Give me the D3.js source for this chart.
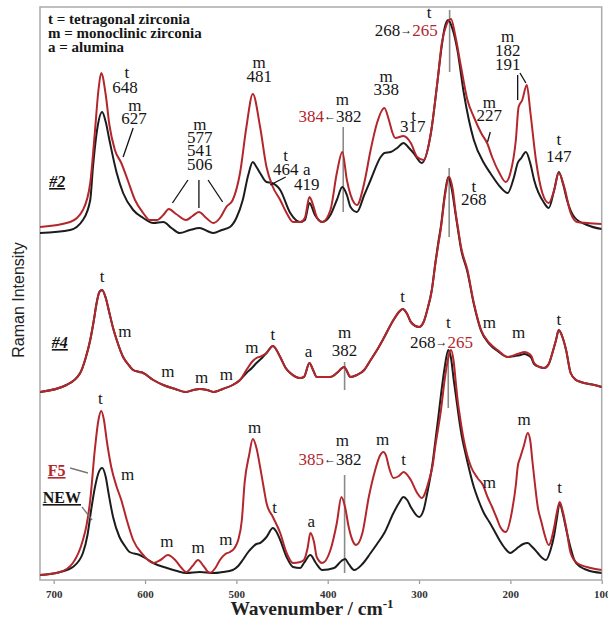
<!DOCTYPE html>
<html><head><meta charset="utf-8">
<script src="https://cdn.jsdelivr.net/npm/d3@7"></script>
<style>
html,body{margin:0;padding:0;background:#fff;}
svg{display:block;}
</style></head>
<body>
<svg id="chart" width="608" height="621"></svg>
<script>
// ---------- DATA (wavenumber cm-1, stacked Raman intensity, a.u.) ----------
const xTicks = [700, 600, 500, 400, 300, 200, 100];

const s2Red = [[715,353],[682,358],[668,370],[660,397],[655,447],[651,490],[648,507],[643,485],[639,455],[633,430],[626,417],[619,400],[611,380],[602,367],[595,360],[587,360],[580,365],[574,371],[566,366],[555,360],[548,364],[541,368],[533,362],[525,357],[518,362],[511,373],[504,380],[496,407],[489,453],[482,486],[474,453],[467,413],[460,393],[452,380],[445,367],[438,358],[430,358],[425,362],[420,383],[416,375],[412,363],[406,358],[397,370],[390,407],[384,428],[379,400],[371,377],[368,375],[360,397],[353,430],[346,457],[338,472],[333,460],[329,447],[326,442],[317,444],[309,437],[302,423],[295,420],[287,447],[280,497],[275,537],[270,555],[265,561],[260,543],[254,513],[247,480],[240,463],[232,447],[225,436],[220,423],[212,407],[205,398],[200,407],[194,440],[191,473],[187,480],[182,495],[178,467],[172,420],[165,387],[158,377],[152,390],[147,407],[141,393],[134,367],[127,358],[116,357],[100,356]];
const s2Black = [[715,347],[682,350],[668,360],[660,380],[657,413],[652,453],[647,468],[643,458],[639,440],[631,407],[624,387],[613,370],[602,362],[591,357],[580,358],[571,352],[562,347],[551,350],[540,352],[532,349],[525,347],[516,350],[507,353],[500,362],[493,380],[487,405],[482,418],[478,413],[474,407],[467,398],[461,397],[452,390],[441,367],[430,358],[425,360],[420,377],[414,365],[406,358],[397,365],[390,380],[384,393],[379,385],[375,373],[368,368],[360,385],[353,400],[342,423],[338,427],[331,428],[324,432],[317,437],[311,432],[306,427],[297,417],[287,447],[280,497],[275,535],[272,552],[268,560],[263,550],[258,530],[251,487],[240,440],[229,417],[222,407],[211,393],[203,387],[196,403],[192,417],[188,422],[183,428],[178,416],[174,400],[163,377],[158,372],[152,390],[147,408],[142,395],[138,380],[130,363],[116,355],[100,351]];

const s4Red = [[715,188],[686,195],[671,207],[665,222],[660,240],[656,260],[653,277],[650,288],[647,290],[643,282],[639,267],[635,252],[631,240],[624,223],[617,214],[613,210],[606,208],[602,207],[591,200],[580,195],[567,191],[555,188],[547,190],[540,191],[532,190],[525,188],[515,191],[504,195],[496,200],[489,210],[483,218],[478,222],[472,224],[467,227],[460,234],[452,223],[446,212],[441,207],[430,202],[426,203],[420,217],[416,210],[412,203],[397,203],[390,207],[382,213],[375,203],[368,205],[360,210],[353,220],[346,230],[338,243],[328,260],[322,268],[318,271],[313,266],[309,258],[300,253],[295,258],[291,270],[286,290],[282,317],[279,335],[276,352],[272,382],[267,403],[263,390],[260,368],[257,350],[254,333],[247,310],[240,277],[232,250],[223,237],[214,230],[203,223],[195,225],[189,227],[185,228],[181,227],[177,224],[174,217],[168,213],[163,212],[158,216],[154,227],[150,240],[147,250],[143,243],[139,230],[134,207],[128,200],[123,198],[108,195],[100,193]];
const s4Black = [[715,188],[686,195],[671,207],[665,222],[660,240],[656,260],[653,277],[650,288],[647,290],[643,282],[639,267],[635,252],[631,240],[624,223],[617,214],[613,210],[606,208],[602,207],[591,200],[580,195],[567,191],[555,188],[547,190],[540,191],[532,190],[525,188],[515,191],[504,195],[496,200],[489,207],[483,212],[478,217],[472,222],[467,227],[460,234],[452,223],[446,212],[441,207],[430,202],[426,203],[420,217],[416,210],[412,203],[397,203],[390,207],[382,213],[375,203],[368,205],[360,210],[353,220],[346,230],[338,243],[328,260],[322,268],[318,271],[313,266],[309,258],[300,253],[295,258],[291,270],[286,290],[282,318],[279,337],[276,354],[272,384],[268,403],[264,390],[260,366],[257,348],[254,331],[247,308],[240,276],[232,249],[223,236],[214,229],[203,223],[195,224],[189,225],[185,226],[181,225],[177,222],[174,216],[168,213],[163,212],[158,216],[154,227],[150,240],[147,250],[143,243],[139,230],[134,207],[128,200],[123,198],[108,195],[100,193]];

const sF5Red = [[715,5],[693,8],[679,17],[668,40],[664,55],[660,80],[655,130],[651,160],[648,169],[645,160],[642,140],[637,113],[631,93],[626,80],[620,60],[613,40],[602,25],[591,17],[583,20],[575,25],[567,20],[560,12],[555,8],[548,14],[542,20],[536,14],[529,7],[523,12],[518,20],[512,26],[507,28],[502,32],[498,40],[494,60],[491,97],[486,125],[482,141],[478,132],[474,113],[470,92],[467,77],[460,63],[452,47],[445,27],[438,17],[430,18],[426,20],[422,32],[419,47],[415,38],[412,23],[406,17],[397,30],[390,57],[385,83],[381,73],[377,53],[373,40],[369,35],[362,47],[355,83],[348,110],[343,124],[339,128],[336,124],[333,113],[328,102],[322,104],[317,108],[309,100],[302,87],[297,82],[289,100],[285,115],[282,135],[279,152],[276,170],[272,200],[268,222],[265,230],[262,218],[260,200],[258,182],[255,162],[251,140],[247,124],[243,113],[236,102],[230,95],[225,83],[220,73],[215,62],[211,53],[205,48],[198,70],[194,95],[192,113],[189,123],[185,135],[181,147],[178,138],[176,120],[173,95],[170,73],[166,58],[163,47],[158,35],[152,53],[149,68],[146,78],[143,70],[139,53],[134,27],[127,17],[112,12],[100,10]];
const sNewBlack = [[715,5],[693,8],[679,13],[668,27],[663,45],[659,70],[655,92],[651,107],[647,112],[643,103],[640,87],[635,63],[628,43],[622,34],[617,28],[606,25],[598,21],[591,17],[576,12],[565,9],[555,7],[540,8],[525,7],[515,8],[504,10],[498,14],[493,20],[487,28],[482,33],[478,36],[474,37],[467,43],[460,52],[456,48],[452,40],[445,23],[438,13],[430,12],[426,17],[419,25],[413,17],[406,10],[393,12],[385,19],[381,21],[377,16],[371,10],[362,16],[353,27],[346,36],[338,47],[328,67],[322,77],[317,83],[313,80],[309,73],[300,63],[295,70],[291,87],[285,118],[282,140],[279,162],[276,185],[272,212],[268,230],[265,222],[262,200],[259,180],[256,160],[253,143],[250,130],[247,118],[240,93],[235,80],[229,67],[223,58],[218,50],[212,40],[207,33],[200,27],[195,30],[191,33],[186,36],[181,37],[176,33],[170,27],[165,22],[161,20],[156,30],[152,45],[149,62],[146,77],[143,68],[138,47],[134,32],[130,20],[123,13],[116,10],[100,7]];

// peak labels: [text, wavenumber, intensity(baseline)]
const peakLabels = [
  ["t",620,502],["648",622,487],["m",611,469],["627",612,456],
  ["m",540,450],["577",540,437],["541",540,424],["506",540,410],
  ["m",475,512],["481",475,498],["t",446,419],["464",446,405],
  ["a",423,405],["419",423,390],["m",384,475],["m",336,498],["338",336,485],
  ["t",306,459],["317",307,448],["t",289,562],["m",223,472],["227",223,459],
  ["m",203,538],["182",203,524],["191",203,510],["t",147,435],["147",147,418],
  ["t",240,388],["268",240,375],
  ["t",647,298],["m",622,243],["m",575,203],["m",538,197],["m",511,200],
  ["m",483,227],["t",460,240],["a",421,223],["m",381.5,242],["382",381.5,224],
  ["t",318,278],["t",268,252],["m",223,252],["m",191,242],["t",147,255],
  ["t",649,176],["m",619,100],["m",576,33],["m",542,27],["m",511.5,35],
  ["m",480,147],["t",458,67],["a",418,53],["m",384,134],["m",340,135],
  ["t",317,115],["m",223,92],["m",185,155],["t",146,87]
];
// shift labels: [wavenumber(centre), intensity, left, arrow, right, red side]
const shiftLabels = [
  [397.6,458,"384","\u2190","382","left"],
  [314,544,"268","\u2192","265","right"],
  [275.5,232,"268","\u2192","265","right"],
  [397.6,115,"385","\u2190","382","left"]
];
// sample names: [text, wavenumber(start), intensity, colour key]
const sampleNames = [["#2",705,393,"k"],["#4",702,232,"k"],["F5",706.5,104,"r"],["NEW",712,77,"k"]];
// leader lines [wn1, I1, wn2, I2]
const leaders = [[613,452,624,423],[553,400,570,377],[541,400,541,372],[531,400,515,378],
  [446,403,463,395],[222,448,225,438],[192,505,192,480],[189.5,507,183,497]];
const nameLeaders = [[682,112,662.5,107],[669,73,658,60]];
// grey peak markers [wn, I top, I bottom]
const markers = [[383,453,368],[266.5,570,508],[267,412,343],[381.5,218,190],[268,230,172],[381.5,105,7]];
const legendLines = ["t = tetragonal zirconia","m = monoclinic zirconia","a = alumina"];

// ---------- CHART ----------
const RED = "#b3262c", BLK = "#1c1c1c";
const svg = d3.select("#chart");
const L = 40, R = 601.7, T = 7, B = 580;
const x = d3.scaleLinear().domain([715,100]).range([L,R]);
const y = d3.scaleLinear().domain([0,573]).range([B,T]);
const serif = "'Liberation Serif','Times New Roman',serif";

svg.append("clipPath").attr("id","clip").append("rect")
  .attr("x",L).attr("y",T).attr("width",R-L).attr("height",B-T);

// axis
const ax = svg.append("g").attr("transform",`translate(0,${B})`)
  .call(d3.axisBottom(x).tickValues(xTicks).tickSize(4).tickPadding(6).tickFormat(d3.format("d")));
ax.select(".domain").remove();
ax.selectAll(".tick line").attr("stroke","#999").attr("stroke-width",1.2);
ax.selectAll(".tick text").attr("fill","#333").style("font-family",serif)
  .style("font-size","11px").style("font-weight","bold");

// frame
svg.append("rect").attr("x",L).attr("y",T).attr("width",R-L).attr("height",B-T)
  .attr("fill","none").attr("stroke","#aaa").attr("stroke-width",1.5);

// axis titles
const xt = svg.append("text").attr("x",312).attr("y",615).attr("text-anchor","middle")
  .style("font-family",serif).style("font-size","19.5px").style("font-weight","bold").attr("fill","#222");
xt.append("tspan").text("Wavenumber / cm");
xt.append("tspan").attr("dy",-7).style("font-size","13px").text("-1");
svg.append("text").attr("transform","translate(24,300) rotate(-90)").attr("text-anchor","middle")
  .style("font-family","'Liberation Sans',Arial,sans-serif").style("font-size","16px").attr("fill","#222")
  .text("Raman Intensity");

// markers (grey)
const gm = svg.append("g");
markers.forEach(m => gm.append("line").attr("x1",x(m[0])).attr("x2",x(m[0]))
  .attr("y1",y(m[1])).attr("y2",y(m[2])).attr("stroke","#8a8a8a").attr("stroke-width",1.6));

// spectra
const line = d3.line().x(d=>x(d[0])).y(d=>y(d[1])).curve(d3.curveMonotoneX);
const series = [[s2Black,BLK],[s2Red,RED],[s4Black,BLK],[s4Red,RED],[sNewBlack,BLK],[sF5Red,RED]];
const gs = svg.append("g").attr("clip-path","url(#clip)");
series.forEach(s => gs.append("path").datum(s[0]).attr("d",line)
  .attr("fill","none").attr("stroke",s[1]).attr("stroke-width",2).attr("stroke-linejoin","round"));

// leaders
leaders.forEach(l => svg.append("line").attr("x1",x(l[0])).attr("y1",y(l[1]))
  .attr("x2",x(l[2])).attr("y2",y(l[3])).attr("stroke","#111").attr("stroke-width",1.3));
nameLeaders.forEach(l => svg.append("line").attr("x1",x(l[0])).attr("y1",y(l[1]))
  .attr("x2",x(l[2])).attr("y2",y(l[3])).attr("stroke","#777").attr("stroke-width",1.3));

// peak labels
svg.append("g").selectAll("text").data(peakLabels).join("text")
  .attr("x",d=>x(d[1])).attr("y",d=>y(d[2])).attr("text-anchor","middle")
  .style("font-family",serif).style("font-size","17px").attr("fill","#161616").text(d=>d[0]);

// shift labels
shiftLabels.forEach(s => {
  const t = svg.append("text").attr("x",x(s[0])).attr("y",y(s[1])).attr("text-anchor","middle")
    .style("font-family",serif).style("font-size","17px");
  t.append("tspan").attr("fill", s[5]==="left"?RED:"#161616").text(s[2]);
  t.append("tspan").attr("fill","#161616").style("font-size","12px").attr("dy",-2).text(s[3]);
  t.append("tspan").attr("fill", s[5]==="right"?RED:"#161616").attr("dy",2).text(s[4]);
});

// sample names
svg.append("g").selectAll("text").data(sampleNames).join("text")
  .attr("x",d=>x(d[1])).attr("y",d=>y(d[2]))
  .style("font-family",serif).style("font-size","16px").style("font-weight","bold")
  .style("font-style",d=>d[0].startsWith("#")?"italic":"normal")
  .attr("text-decoration","underline")
  .attr("fill",d=>d[3]==="r"?RED:"#161616").text(d=>d[0]);

// legend
svg.append("g").selectAll("text").data(legendLines).join("text")
  .attr("x",L+8).attr("y",(d,i)=>24+i*14)
  .style("font-family",serif).style("font-size","15px").style("font-weight","bold")
  .attr("fill","#161616").text(d=>d);
</script>
</body></html>
